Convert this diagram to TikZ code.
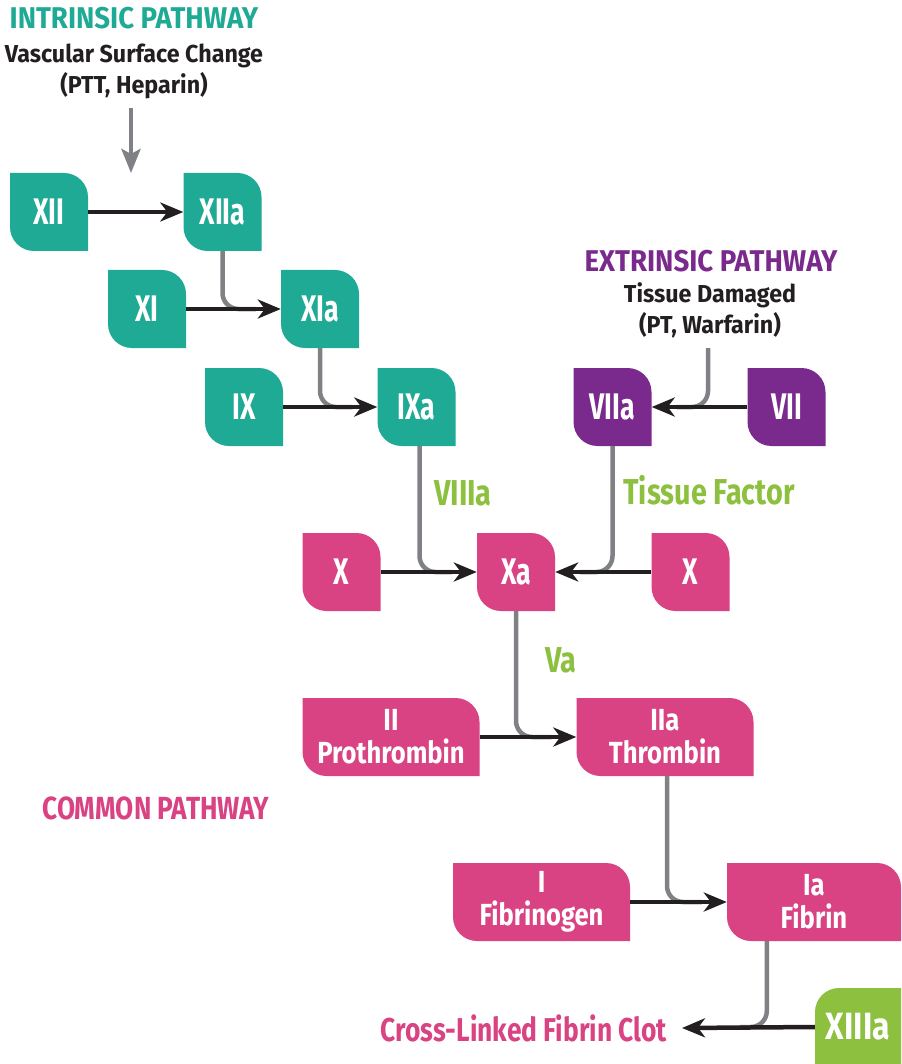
\documentclass[tikz,border=0pt]{standalone}
\usepackage{fontspec}
\setmainfont{Fira Sans}[FakeStretch=0.8]
\newfontfamily\fsq{Fira Sans}[FakeStretch=0.72]
\newfontfamily\fwide{Fira Sans}[FakeStretch=0.84]
\newfontfamily\ftitle{Fira Sans}[FakeStretch=0.92]
\newfontfamily\fcom{Fira Sans}[FakeStretch=0.82]
\newfontfamily\fsub{Fira Sans}[FakeStretch=0.95]
\newfontfamily\fgl{Fira Sans}[FakeStretch=0.8]
\usetikzlibrary{arrows.meta,calc}
\definecolor{tealC}{HTML}{1EAA94}
\definecolor{purpC}{HTML}{7A2A8C}
\definecolor{pinkC}{HTML}{D94383}
\definecolor{greenC}{HTML}{8DC03F}
\definecolor{grayC}{HTML}{808184}
\definecolor{blackC}{HTML}{231F20}
\tikzset{
  shapeA/.style={fill=white, path picture={\fill[#1]
     (path picture bounding box.north west)
     -- ([xshift=-24pt]path picture bounding box.north east)
     .. controls ([xshift=-10.75pt]path picture bounding box.north east) and ([yshift=-10.75pt]path picture bounding box.north east)
     .. ([yshift=-24pt]path picture bounding box.north east)
     -- (path picture bounding box.south east)
     -- ([xshift=24pt]path picture bounding box.south west)
     .. controls ([xshift=10.75pt]path picture bounding box.south west) and ([yshift=10.75pt]path picture bounding box.south west)
     .. ([yshift=24pt]path picture bounding box.south west)
     -- cycle;}},
  shapeB/.style={fill=white, path picture={\fill[#1]
     ([yshift=-24pt]path picture bounding box.north west)
     .. controls ([yshift=-10.75pt]path picture bounding box.north west) and ([xshift=10.75pt]path picture bounding box.north west)
     .. ([xshift=24pt]path picture bounding box.north west)
     -- (path picture bounding box.north east)
     -- (path picture bounding box.south east)
     -- (path picture bounding box.south west)
     -- cycle;}},
  boxbase/.style={inner sep=0pt, text=white, align=center, minimum height=78pt},
  sqbox/.style={boxbase, minimum width=78pt, font=\fsq\bfseries\fontsize{37}{40}\selectfont, shapeA=#1},
  widebox/.style={boxbase, minimum width=177pt, font=\fwide\bfseries\fontsize{30.5}{33}\selectfont, shapeA=#1},
  blk/.style={draw=blackC, line width=4.5pt, -{Stealth[length=23pt,width=19pt,inset=7pt]}},
  gry/.style={draw=grayC, line width=4.5pt, rounded corners=16pt},
  title/.style={anchor=base, inner sep=0pt, font=\ftitle\bfseries\fontsize{30}{32}\selectfont},
  sub/.style={anchor=base, inner sep=0pt, text=blackC, font=\fsub\bfseries\fontsize{24.5}{26}\selectfont},
  glab/.style={anchor=base, inner sep=0pt, text=greenC, font=\fgl\bfseries\fontsize{36}{38}\selectfont},
}
\begin{document}
\begin{tikzpicture}[x=1pt,y=-1pt]
\useasboundingbox (0,0) rectangle (901,1064);
\clip (0,0) rectangle (901,1064);

% titles
\node[title, text=tealC] (tint) at (134,29) {INTRINSIC PATHWAY};
\node[sub] (vsc) at (134,63) {Vascular Surface Change};
\node[sub] (ptt) at (134,94) {(PTT, Heparin)};
\node[title, text=purpC] (text) at (711,272) {EXTRINSIC PATHWAY};
\node[sub] (tdm) at (710,302) {Tissue Damaged};
\node[sub] (ptw) at (710,333) {(PT, Warfarin)};
\node[title, text=pinkC, font=\fcom\bfseries\fontsize{32}{34}\selectfont] (tcom) at (156,819) {COMMON PATHWAY};
\node[glab] (l8) at (463,505) {VIIIa};
\node[glab] (ltf) at (709,504) {Tissue Factor};
\node[glab] (lva) at (561,672) {Va};

% boxes
\node[sqbox=tealC] (XII) at (49,212) {XII};
\node[sqbox=tealC] (XIIa) at (222.5,212) {XIIa};
\node[sqbox=tealC] (XI) at (147,309) {XI};
\node[sqbox=tealC] (XIa) at (320,309) {XIa};
\node[sqbox=tealC] (IX) at (244,407) {IX};
\node[sqbox=tealC] (IXa) at (416.5,407) {IXa};
\node[sqbox=purpC] (VIIa) at (612.5,407) {VIIa};
\node[sqbox=purpC] (VII) at (786.5,407) {VII};
\node[sqbox=pinkC] (X1) at (341.5,572) {X};
\node[sqbox=pinkC] (Xa) at (516,572) {Xa};
\node[sqbox=pinkC] (X2) at (690.5,572) {X};
\node[widebox=pinkC] (II) at (391,737) {II\\Prothrombin};
\node[widebox=pinkC] (IIa) at (665,737) {IIa\\Thrombin};
\node[widebox=pinkC] (I) at (541.5,902) {I\\Fibrinogen};
\node[widebox=pinkC, minimum width=174pt] (Ia) at (814,902) {Ia\\Fibrin};
\node[boxbase, minimum width=86pt, font=\fwide\bfseries\fontsize{38}{40}\selectfont, shapeB=greenC] (XIIIa) at (858,1027) {XIIIa};
\node[anchor=east, inner xsep=15pt, inner ysep=0pt, text=pinkC, font=\fgl\bfseries\fontsize{33}{35}\selectfont] (clot) at (682,1028) {Cross-Linked Fibrin Clot};

% gray connectors
\coordinate (gtop) at (131,108);
\coordinate (gbot) at (131,173);
\coordinate (etop) at (708,348);
\draw[draw=grayC, line width=4.5pt, -{Stealth[length=24pt,width=19pt,inset=5pt]}] (gtop) -- (gbot);
\draw[gry] (XIIa.south) |- ($(XIa.west)+(-25,0)$);
\draw[gry] (XIa.south) |- ($(IXa.west)+(-25,0)$);
\draw[gry] ([xshift=3pt]IXa.south) |- ($(Xa.west)+(-25,0)$);
\draw[gry] (VIIa.south) |- ($(Xa.east)+(25,0)$);
\draw[gry] (etop) |- ($(VIIa.east)+(25,0)$);
\draw[gry] (Xa.south) |- ($(IIa.west)+(-25,0)$);
\draw[gry] ([xshift=2pt]IIa.south) |- ($(Ia.west)+(-25,0)$);
\draw[gry] ([xshift=40pt]Ia.south west) |- ($(XIIIa.west)+(-75,0)$);

% black arrows
\draw[blk] (XII.east) -- (XIIa.west);
\draw[blk] (XI.east) -- (XIa.west);
\draw[blk] (IX.east) -- (IXa.west);
\draw[blk] (VII.west) -- (VIIa.east);
\draw[blk] (X1.east) -- (Xa.west);
\draw[blk] (X2.west) -- (Xa.east);
\draw[blk] (II.east) -- (IIa.west);
\draw[blk] (I.east) -- (Ia.west);
\draw[blk] (XIIIa.west) -- (clot.east);
\end{tikzpicture}
\end{document}
